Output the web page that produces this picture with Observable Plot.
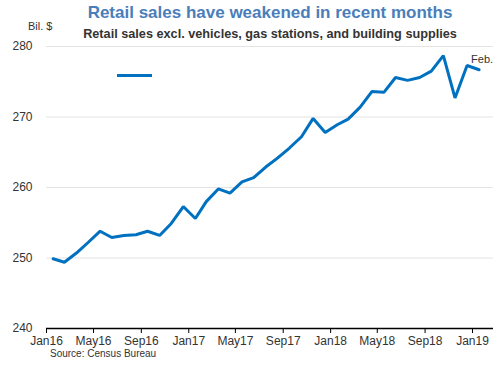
<!DOCTYPE html>
<html><head><meta charset="utf-8">
<script src="https://cdn.jsdelivr.net/npm/d3@7"></script>
<script src="https://cdn.jsdelivr.net/npm/@observablehq/plot@0.6"></script>
<style>
body{margin:0;background:#fff;font-family:"Liberation Sans",Arial,sans-serif}
#wrap{position:relative;width:500px;height:365px;overflow:hidden}
#chart{position:absolute;left:0;top:0}
.t{position:absolute;white-space:nowrap;line-height:1}
#title{left:20px;width:500px;top:4px;text-align:center;color:#4a7ebb;font-weight:bold;font-size:17px}
#subtitle{left:20px;width:500px;top:28px;text-align:center;color:#333;font-weight:bold;font-size:12.7px}
#unit{left:28px;top:21px;color:#333;font-size:11px}
#source{left:50px;top:349px;color:#333;font-size:10px}
#swatch{position:absolute;left:117px;top:74px;width:35px;height:3px;background:#0070c0}
</style>
</head><body>
<div id="wrap">
  <div id="chart"></div>
  <div class="t" id="title">Retail sales have weakened in recent months</div>
  <div class="t" id="unit">Bil. $</div>
  <div class="t" id="subtitle">Retail sales excl. vehicles, gas stations, and building supplies</div>
  <div id="swatch"></div>
  <div class="t" id="source">Source: Census Bureau</div>
</div>
<script>
const months = ["2016-02-01","2016-03-01","2016-04-01","2016-05-01","2016-06-01","2016-07-01","2016-08-01","2016-09-01","2016-10-01","2016-11-01","2016-12-01",
"2017-01-01","2017-02-01","2017-03-01","2017-04-01","2017-05-01","2017-06-01","2017-07-01","2017-08-01","2017-09-01","2017-10-01","2017-11-01","2017-12-01",
"2018-01-01","2018-02-01","2018-03-01","2018-04-01","2018-05-01","2018-06-01","2018-07-01","2018-08-01","2018-09-01","2018-10-01","2018-11-01","2018-12-01",
"2019-01-01","2019-02-01"];
const sales = [249.9,249.4,250.7,252.2,253.8,252.9,253.2,253.3,253.8,253.2,254.9,
257.3,255.6,258.0,259.8,259.2,260.8,261.4,262.9,264.2,265.6,267.2,269.8,
267.8,268.9,269.7,271.4,273.6,273.5,275.6,275.2,275.6,276.5,278.7,272.7,
277.3,276.7];
const xTickDates = ["2016-01-15","2016-05-15","2016-09-15","2017-01-15","2017-05-15","2017-09-15","2018-01-15","2018-05-15","2018-09-15","2019-01-15"];
const xTickLabels = ["Jan16","May16","Sep16","Jan17","May17","Sep17","Jan18","May18","Sep18","Jan19"];
const yTicks = [240,250,260,270,280];
const xDomain = ["2016-01-15","2019-03-10"];
const endLabel = "Feb.";

const data = months.map((m,i)=>({date:new Date(m), value:sales[i]}));
const last = data[data.length-1];

const chart = Plot.plot({
  width:500, height:350,
  marginLeft:46, marginRight:7, marginTop:46, marginBottom:22,
  style:{fontFamily:"'Liberation Sans', Arial, sans-serif", fontSize:"12px", color:"#333", background:"transparent"},
  x:{type:"utc", domain:xDomain.map(d=>new Date(d))},
  y:{domain:[240,280]},
  marks:[
    Plot.gridY(yTicks.filter(d=>d>240), {stroke:"#e4e4e4", strokeOpacity:1, strokeWidth:1}),
    Plot.axisY({ticks:yTicks, tickSize:0, tickPadding:14, label:null, tickFormat:d=>String(d), fontSize:12}),
    Plot.axisX({ticks:xTickDates.map(d=>new Date(d)), tickFormat:(d,i)=>xTickLabels[i], tickSize:5, tickPadding:3, label:null, stroke:"#000", fontSize:12}),
    Plot.ruleY([240], {stroke:"#000", strokeWidth:1.5}),
    Plot.lineY(data, {x:"date", y:"value", stroke:"#0070c0", strokeWidth:3, strokeLinejoin:"miter"}),
    Plot.text([last], {x:"date", y:"value", text:()=>endLabel, dx:3, dy:-10, fontSize:11, fill:"#333"})
  ]
});
document.getElementById("chart").appendChild(chart);
</script>
</body></html>
